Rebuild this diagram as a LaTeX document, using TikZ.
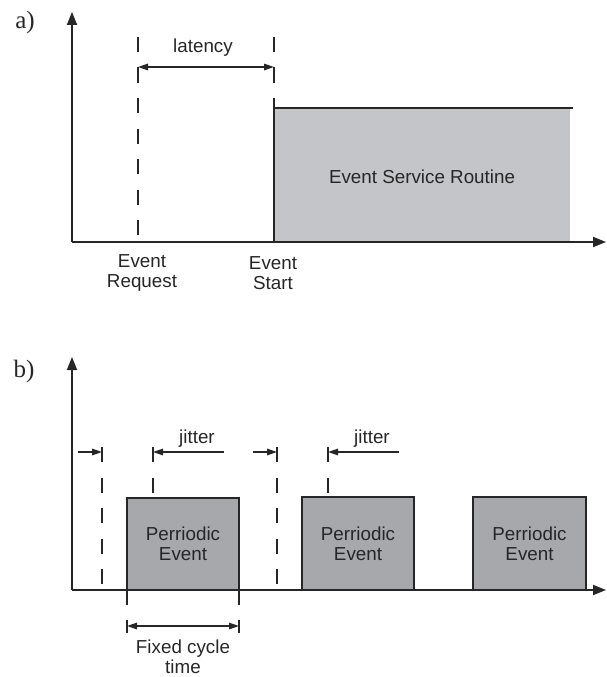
\documentclass[tikz,border=0pt]{standalone}
\usepackage{fontspec}
\setmainfont{Liberation Sans}
\newfontfamily\panelfont{Liberation Serif}
\usetikzlibrary{arrows.meta}
\definecolor{ink}{HTML}{262626}
\definecolor{routinegray}{HTML}{C4C5C8}
\definecolor{eventgray}{HTML}{A7A8AB}
\begin{document}
\begin{tikzpicture}[x=1pt,y=-1pt,
  axisline/.style={draw=ink, line width=1.8pt, -{Triangle[length=13pt,width=10pt]}},
  guide/.style={draw=ink, line width=1.6pt, dash pattern=on 15pt off 15.5pt},
  solidedge/.style={draw=ink, line width=1.6pt},
  dimarrow/.style={draw=ink, line width=1.4pt, -{Triangle[length=10pt,width=6.5pt]}},
  dimboth/.style={draw=ink, line width=1.4pt, {Triangle[length=10pt,width=6.5pt]}-{Triangle[length=10pt,width=6.5pt]}},
  lbl/.style={text=ink, font=\fontsize{18.8}{20}\selectfont, inner sep=0pt, align=center},
  panel/.style={text=ink, font=\panelfont\fontsize{25}{27}\selectfont, inner sep=0pt},
  evbox/.style={draw=ink, line width=1.6pt, fill=eventgray},
]
\useasboundingbox (0,0) rectangle (607,677);

% ---------------- a) latency ----------------
\node[panel] (pa) at (25,22) {a)};

\coordinate (aO)   at (72,242);
\coordinate (aTop) at (72,12);
\coordinate (aEnd) at (606,242);

% service routine block
\coordinate (esrTL)  at (274,108);
\coordinate (esrBR)  at (570,242);
\coordinate (esrTop) at (573,108);
\fill[routinegray] (esrTL) rectangle (esrBR);
\draw[solidedge] (esrTL) -- (esrTop);

% event request / start guides
\coordinate (reqTop) at (138,37);
\coordinate (reqBot) at (138,242);
\coordinate (stTop)  at (274,37);
\coordinate (stMid)  at (274,97);
\coordinate (stEdge) at (274,98);
\coordinate (stBot)  at (274,242);
\draw[guide] (reqTop) -- (reqBot);
\draw[guide] (stTop) -- (stMid);
\draw[solidedge] (stEdge) -- (stBot);

% latency dimension
\coordinate (latL) at (138,67);
\coordinate (latR) at (274,67);
\draw[dimboth] (latL) -- (latR);
\node[lbl] (lat) at (203,48) {latency};

\node[lbl] (esr) at (422,177) {Event Service Routine};
\node[lbl] (req) at (142,273) {Event\\Request};
\node[lbl] (start) at (273,273) {Event\\Start};

\draw[axisline] (aO) -- (aTop);
\draw[axisline] (aO) -- (aEnd);

% ---------------- b) periodic events ----------------
\node[panel] (pb) at (24,371) {b)};

\coordinate (bO)   at (72,590);
\coordinate (bTop) at (72,357);
\coordinate (bEnd) at (606,590);

% periodic event blocks
\node[evbox, minimum width=112pt, minimum height=92pt, inner sep=0pt] (e1) at (183,544) {};
\node[evbox, minimum width=112pt, minimum height=93pt, inner sep=0pt] (e2) at (358,543.5) {};
\node[evbox, minimum width=113pt, minimum height=93pt, inner sep=0pt] (e3) at (529.5,543.5) {};
\node[lbl] (t1) at (e1.center) {Perriodic\\Event};
\node[lbl] (t2) at (e2.center) {Perriodic\\Event};
\node[lbl] (t3) at (e3.center) {Perriodic\\Event};

% nominal and actual start guides
\coordinate (g1a) at (102,447); \coordinate (g1b) at (102,590);
\coordinate (g2a) at (153,447); \coordinate (g2b) at (153,493);
\coordinate (g3a) at (277,447); \coordinate (g3b) at (277,590);
\coordinate (g4a) at (328,447); \coordinate (g4b) at (328,493);
\draw[guide] (g1a) -- (g1b);
\draw[guide] (g2a) -- (g2b);
\draw[guide] (g3a) -- (g3b);
\draw[guide] (g4a) -- (g4b);

% jitter arrows
\coordinate (j1s) at (78,452);  \coordinate (j1e) at (102,452);
\coordinate (j2s) at (224,452); \coordinate (j2e) at (153,452);
\coordinate (j3s) at (253,452); \coordinate (j3e) at (277,452);
\coordinate (j4s) at (399,452); \coordinate (j4e) at (328,452);
\draw[dimarrow] (j1s) -- (j1e);
\draw[dimarrow] (j2s) -- (j2e);
\draw[dimarrow] (j3s) -- (j3e);
\draw[dimarrow] (j4s) -- (j4e);
\node[lbl] (jit1) at (197,439) {jitter};
\node[lbl] (jit2) at (372,439) {jitter};

\draw[axisline] (bO) -- (bTop);
\draw[axisline] (bO) -- (bEnd);

% fixed cycle time dimension
\coordinate (c1a) at (127,590); \coordinate (c1b) at (127,605);
\coordinate (c2a) at (239,590); \coordinate (c2b) at (239,605);
\coordinate (c1u) at (127,620); \coordinate (c1d) at (127,633);
\coordinate (c2u) at (239,620); \coordinate (c2d) at (239,633);
\coordinate (cL) at (127,626);  \coordinate (cR) at (239,626);
\draw[solidedge] (c1a) -- (c1b);
\draw[solidedge] (c2a) -- (c2b);
\draw[solidedge] (c1u) -- (c1d);
\draw[solidedge] (c2u) -- (c2d);
\draw[dimboth] (cL) -- (cR);
\node[lbl] (fct) at (183,656.5) {Fixed cycle\\time};
\end{tikzpicture}
\end{document}
